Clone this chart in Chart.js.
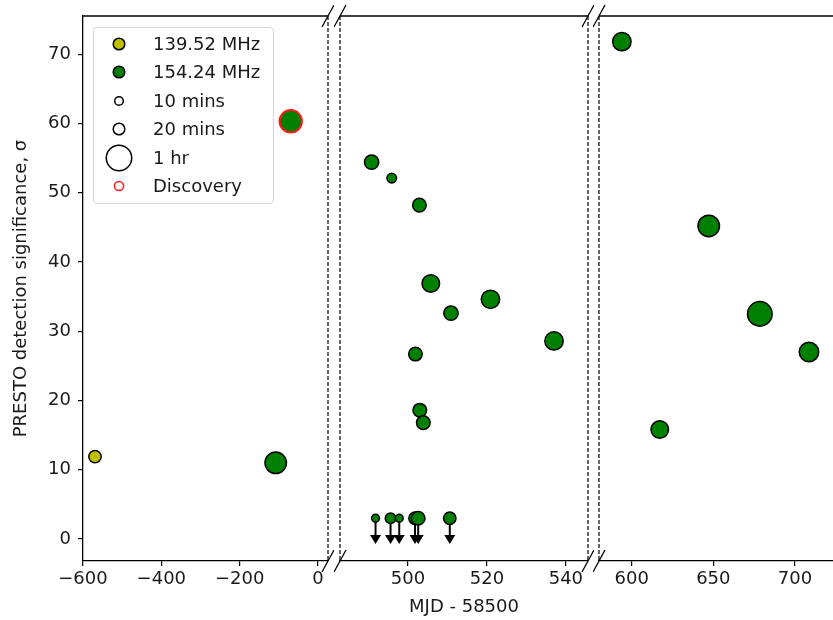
<!DOCTYPE html>
<html>
<head>
<meta charset="utf-8">
<script src="https://cdn.jsdelivr.net/npm/chart.js@4.4.1/dist/chart.umd.min.js"></script>
<style>
  body { margin: 0; background: #fff; }
  #wrap { position: relative; width: 833px; height: 620px; overflow: hidden; font-family: 'DejaVu Sans', sans-serif; }
  .panel { position: absolute; top: 0; height: 620px; }
  #legend { position: absolute; left: 93px; top: 27px; width: 179px; height: 175px; border: 1px solid #d4d4d4; border-radius: 4px; background: rgba(255,255,255,0.85); }
  #legend .row { position: absolute; left: 0; height: 28px; }
  #legend svg { position: absolute; left: 10px; top: -15px; }
  #legend span { position: absolute; left: 59px; top: -11px; font-size: 18px; color: #1a1a1a; white-space: nowrap; }
</style>
</head>
<body>
<div id="wrap">
  <div class="panel" style="left:0;width:334px"><canvas id="c1"></canvas></div>
  <div class="panel" style="left:334px;width:260px"><canvas id="c2"></canvas></div>
  <div class="panel" style="left:593px;width:240px"><canvas id="c3"></canvas></div>
  <div id="legend"></div>
</div>
<script>
// 139.52 MHz detections
var lowX = [-569.4];
var lowY = [11.9];
var lowMins = [15];

// 154.24 MHz detections
var highX = [-108, 490.8, 495.9, 502.9, 505.8, 510.9, 520.9, 537.0, 501.9, 503.0, 503.9, 594.0, 647.2, 678.5, 708.6, 617.2];
var highY = [11.0, 54.4, 52.1, 48.2, 36.9, 32.6, 34.6, 28.6, 26.7, 18.6, 16.8, 71.8, 45.2, 32.5, 27.0, 15.8];
var highMins = [45, 20, 9, 18, 30, 20, 33, 33, 18, 18, 18, 33, 45, 59, 37, 30];

// discovery observation
var discX = [-69.7];
var discY = [60.3];
var discMins = [49];

// upper limits (non-detections)
var limX = [491.8, 495.6, 497.8, 501.8, 502.6, 510.6];
var limY = [3, 3, 3, 3, 3, 3];
var limMins = [6, 11, 6, 15, 18, 15];

var yTicks = [0, 10, 20, 30, 40, 50, 60, 70];
var xTicks1 = [-600, -400, -200, 0];
var xTicks2 = [500, 520, 540];
var xTicks3 = [600, 650, 700];

var legendLabels = ["139.52 MHz", "154.24 MHz", "10 mins", "20 mins", "1 hr", "Discovery"];

var FONT = "'DejaVu Sans', sans-serif";
var TXT = "#1a1a1a";
var YMIN = -3.17, YMAX = 75.5;

function radius(mins) {
  return 1.6 * Math.sqrt(mins);
}

function fmt(v) {
  return v < 0 ? "\u2212" + Math.abs(v) : String(v);
}

function points(xs, ys, ms, lo, hi) {
  var out = [];
  for (var i = 0; i < xs.length; i++) {
    if (xs[i] >= lo && xs[i] <= hi) out.push({x: xs[i], y: ys[i], m: ms[i]});
  }
  return out;
}

// arrows for the upper limits, drawn under the markers
var arrowPlugin = {
  id: "arrows",
  beforeDatasetsDraw: function(chart) {
    var ctx = chart.ctx;
    var xs = chart.scales.x, ys = chart.scales.y;
    chart.data.datasets.forEach(function(ds) {
      if (!ds.uplim) return;
      ds.data.forEach(function(p) {
        var px = xs.getPixelForValue(p.x);
        var top = ys.getPixelForValue(p.y);
        var bot = ys.getPixelForValue(0);
        ctx.save();
        ctx.strokeStyle = "#000";
        ctx.fillStyle = "#000";
        ctx.lineWidth = 2;
        ctx.beginPath();
        ctx.moveTo(px, top);
        ctx.lineTo(px, bot);
        ctx.stroke();
        ctx.beginPath();
        ctx.moveTo(px - 5.5, bot - 4);
        ctx.lineTo(px + 5.5, bot - 4);
        ctx.lineTo(px, bot + 5);
        ctx.closePath();
        ctx.fill();
        ctx.restore();
      });
    });
  }
};

function framePlugin(p) {
  return {
    id: "frame",
    afterDraw: function(chart) {
      var ctx = chart.ctx, a = chart.chartArea;
      ctx.save();
      ctx.strokeStyle = "#000";
      ctx.lineWidth = 1.3;
      ctx.beginPath();
      ctx.moveTo(a.left, a.top);
      ctx.lineTo(a.right, a.top);
      ctx.stroke();

      ctx.strokeStyle = "#333";
      ctx.lineWidth = 1.5;
      ctx.setLineDash([4, 2]);
      var sides = [];
      if (p.breakLeft) sides.push(a.left);
      if (p.breakRight) sides.push(a.right);
      sides.forEach(function(x) {
        ctx.beginPath();
        ctx.moveTo(x, a.top);
        ctx.lineTo(x, a.bottom);
        ctx.stroke();
      });

      ctx.setLineDash([]);
      ctx.strokeStyle = "#000";
      ctx.lineWidth = 1.3;
      sides.forEach(function(x) {
        [a.top, a.bottom].forEach(function(y) {
          ctx.beginPath();
          ctx.moveTo(x - 6, y + 11);
          ctx.lineTo(x + 6, y - 11);
          ctx.stroke();
        });
      });
      ctx.restore();
    }
  };
}

function makeChart(p) {
  var gridOpts = {display: true, drawOnChartArea: false, drawTicks: true, tickLength: 5, color: "#000", lineWidth: 1.2};
  var borderOpts = {display: true, color: "#000", width: 1.3};
  var tickFont = {family: FONT, size: 18};

  var yScale = {
    min: YMIN, max: YMAX,
    display: p.showY,
    afterBuildTicks: function(s) { s.ticks = yTicks.map(function(v) { return {value: v}; }); },
    grid: gridOpts,
    border: borderOpts,
    ticks: {font: tickFont, color: TXT, padding: 7, callback: fmt}
  };
  if (p.showY) {
    yScale.afterFit = function(s) { s.width = 83; s.paddingTop = 0; s.paddingBottom = 0; };
    yScale.title = {display: true, text: "PRESTO detection significance, \u03c3", font: {family: FONT, size: 18}, color: TXT, padding: {top: 11, bottom: 0}};
  }

  var xScale = {
    type: "linear", min: p.min, max: p.max,
    afterBuildTicks: function(s) { s.ticks = p.ticks.map(function(v) { return {value: v}; }); },
    afterFit: function(s) { s.height = 59; s.paddingLeft = 0; s.paddingRight = 0; },
    grid: gridOpts,
    border: borderOpts,
    ticks: {font: tickFont, color: TXT, padding: 3, maxRotation: 0, autoSkip: false, callback: fmt},
    title: {display: !!p.title, text: p.title || "", font: {family: FONT, size: 18}, color: TXT, padding: {top: 0, bottom: 2}}
  };

  var datasets = [
    {
      label: "Discovery",
      data: points(discX, discY, discMins, p.min, p.max),
      backgroundColor: "#008000",
      borderColor: "#ff1a1a",
      borderWidth: 2
    },
    {
      label: "154.24 MHz",
      data: points(highX, highY, highMins, p.min, p.max),
      backgroundColor: "#008000",
      borderColor: "#000",
      borderWidth: 1.5
    },
    {
      label: "139.52 MHz",
      data: points(lowX, lowY, lowMins, p.min, p.max),
      backgroundColor: "#bfbf00",
      borderColor: "#000",
      borderWidth: 1.5
    },
    {
      label: "upper limits",
      uplim: true,
      data: points(limX, limY, limMins, p.min, p.max),
      backgroundColor: "#008000",
      borderColor: "#000",
      borderWidth: 1.5
    }
  ];
  datasets.forEach(function(ds) {
    ds.pointRadius = function(c) { return c.raw ? radius(c.raw.m) : 3; };
    ds.pointHoverRadius = ds.pointRadius;
  });

  return new Chart(document.getElementById(p.id), {
    type: "scatter",
    data: {datasets: datasets},
    options: {
      responsive: true,
      maintainAspectRatio: false,
      animation: false,
      layout: {padding: p.padding, autoPadding: false},
      plugins: {legend: {display: false}, tooltip: {enabled: false}},
      scales: {x: xScale, y: yScale}
    },
    plugins: [arrowPlugin, framePlugin(p)]
  });
}

makeChart({id: "c1", min: -600, max: 25.5, ticks: xTicks1, showY: true, breakLeft: false, breakRight: true,
  padding: {left: 0, right: 6, top: 16, bottom: 0}});
makeChart({id: "c2", min: 482.8, max: 545.6, ticks: xTicks2, showY: false, breakLeft: true, breakRight: true,
  title: "MJD - 58500", padding: {left: 6, right: 6, top: 16, bottom: 0}});
makeChart({id: "c3", min: 580, max: 723.3, ticks: xTicks3, showY: false, breakLeft: true, breakRight: false,
  padding: {left: 6, right: 0, top: 16, bottom: 0}});

// legend
var legendStyles = [
  {r: 5.8, fill: "#bfbf00", stroke: "#000"},
  {r: 5.8, fill: "#008000", stroke: "#000"},
  {r: 4.3, fill: "none", stroke: "#000"},
  {r: 5.8, fill: "none", stroke: "#000"},
  {r: 12.7, fill: "none", stroke: "#000"},
  {r: 4.6, fill: "none", stroke: "#ff1a1a"}
];
var rowTops = [16, 44, 73, 101, 130, 158];
var legend = document.getElementById("legend");
legendLabels.forEach(function(lbl, i) {
  var s = legendStyles[i];
  var row = document.createElement("div");
  row.className = "row";
  row.style.top = rowTops[i] + "px";
  row.innerHTML = '<svg width="30" height="30"><circle cx="15" cy="15" r="' + s.r + '" fill="' + s.fill +
    '" stroke="' + s.stroke + '" stroke-width="1.5"/></svg><span>' + lbl + '</span>';
  legend.appendChild(row);
});
</script>
</body>
</html>
